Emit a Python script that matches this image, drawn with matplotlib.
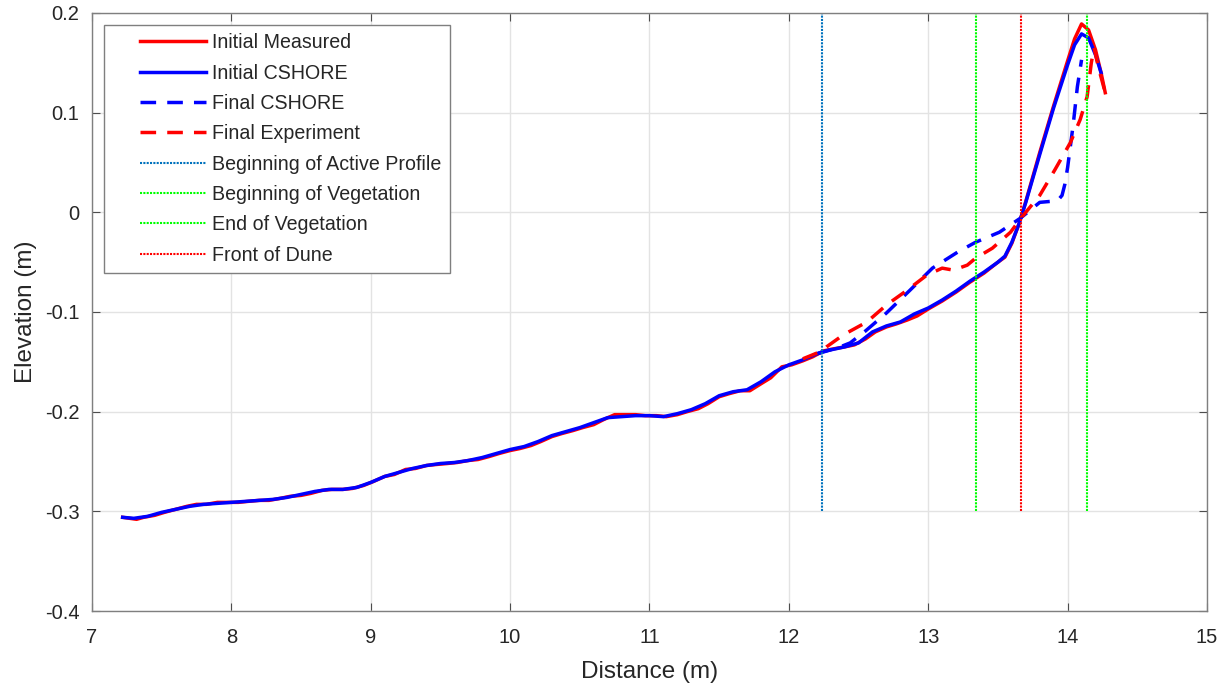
import matplotlib
matplotlib.use("Agg")
import matplotlib.pyplot as plt
from matplotlib.legend_handler import HandlerLine2D

plt.rcParams['font.family'] = ['Liberation Sans', 'DejaVu Sans']

# Initial CSHORE (smooth)
x_cshore = [7.22, 7.30, 7.40, 7.50, 7.60, 7.70, 7.80, 7.90, 8.00, 8.10, 8.20, 8.30, 8.40,
            8.50, 8.60, 8.70, 8.80, 8.90, 9.00, 9.10, 9.20, 9.30, 9.40, 9.50, 9.60, 9.70,
            9.80, 9.90, 10.00, 10.10, 10.20, 10.30, 10.40, 10.50, 10.60, 10.70, 10.80,
            10.90, 11.00, 11.10, 11.20, 11.30, 11.40, 11.50, 11.60, 11.70, 11.80, 11.90,
            12.00, 12.10, 12.20, 12.30, 12.40, 12.50, 12.60, 12.70, 12.80, 12.90, 13.00,
            13.10, 13.20, 13.30, 13.40, 13.50, 13.55, 13.60, 13.65, 13.70, 13.80, 13.90,
            14.00, 14.05, 14.10, 14.15, 14.20, 14.24]
z_cshore = [-0.306, -0.307, -0.305, -0.301, -0.298, -0.295, -0.293, -0.292, -0.291, -0.290,
            -0.289, -0.288, -0.286, -0.283, -0.280, -0.278, -0.278, -0.276, -0.271, -0.265,
            -0.261, -0.257, -0.254, -0.252, -0.251, -0.249, -0.246, -0.242, -0.238, -0.235,
            -0.230, -0.224, -0.220, -0.216, -0.211, -0.206, -0.205, -0.204, -0.204, -0.205,
            -0.202, -0.198, -0.192, -0.184, -0.180, -0.178, -0.170, -0.160, -0.153, -0.148,
            -0.142, -0.138, -0.135, -0.131, -0.120, -0.114, -0.110, -0.102, -0.096, -0.088,
            -0.079, -0.069, -0.060, -0.050, -0.044, -0.030, -0.012, 0.010, 0.058, 0.105,
            0.148, 0.168, 0.179, 0.175, 0.158, 0.140]

# Initial measured (small wiggles)
x_meas = [7.22, 7.27, 7.32, 7.37, 7.45, 7.52, 7.60, 7.68, 7.75, 7.82, 7.90, 7.97, 8.05,
          8.12, 8.20, 8.27, 8.35, 8.42, 8.50, 8.57, 8.65, 8.72, 8.80, 8.87, 8.95, 9.02,
          9.10, 9.17, 9.25, 9.32, 9.40, 9.47, 9.55, 9.62, 9.70, 9.77, 9.85, 9.92, 10.00,
          10.07, 10.15, 10.22, 10.30, 10.37, 10.45, 10.52, 10.60, 10.67, 10.75, 10.82,
          10.90, 10.97, 11.05, 11.12, 11.20, 11.27, 11.35, 11.42, 11.50, 11.57, 11.65,
          11.72, 11.80, 11.87, 11.95, 12.02, 12.10, 12.17, 12.25, 12.32, 12.40, 12.47,
          12.55, 12.62, 12.70, 12.77, 12.85, 12.92, 13.00, 13.10, 13.20, 13.30, 13.40,
          13.50, 13.55, 13.60, 13.65, 13.70, 13.80, 13.90, 14.00, 14.05, 14.10, 14.15,
          14.20, 14.24, 14.27]
z_meas = [-0.306, -0.307, -0.308, -0.306, -0.304, -0.301, -0.298, -0.295, -0.293, -0.293,
          -0.291, -0.291, -0.291, -0.290, -0.289, -0.289, -0.287, -0.285, -0.284, -0.282,
          -0.279, -0.278, -0.278, -0.277, -0.274, -0.270, -0.265, -0.263, -0.258, -0.257,
          -0.254, -0.253, -0.252, -0.251, -0.249, -0.248, -0.245, -0.242, -0.239, -0.237,
          -0.234, -0.230, -0.225, -0.222, -0.219, -0.216, -0.213, -0.208, -0.203, -0.203,
          -0.203, -0.204, -0.204, -0.205, -0.203, -0.200, -0.197, -0.192, -0.185, -0.182,
          -0.179, -0.179, -0.172, -0.166, -0.155, -0.153, -0.149, -0.145, -0.139, -0.137,
          -0.135, -0.133, -0.127, -0.120, -0.115, -0.112, -0.108, -0.104, -0.097, -0.089,
          -0.080, -0.070, -0.061, -0.050, -0.045, -0.031, -0.012, 0.011, 0.060, 0.107,
          0.152, 0.174, 0.189, 0.183, 0.163, 0.140, 0.120]

# Final CSHORE
x_fcs = [12.20, 12.24, 12.35, 12.44, 12.55, 12.70, 12.87, 13.03, 13.21, 13.34, 13.51, 13.66,
         13.80, 13.88, 13.93, 13.96, 13.98, 14.00, 14.04, 14.07, 14.10]
z_fcs = [-0.142, -0.140, -0.136, -0.131, -0.119, -0.101, -0.078, -0.056, -0.040, -0.030,
         -0.020, -0.006, 0.010, 0.011, 0.012, 0.017, 0.028, 0.045, 0.088, 0.126, 0.153]

# Final experiment
x_fex = [12.10, 12.24, 12.27, 12.39, 12.56, 12.70, 12.85, 12.99, 13.10, 13.18, 13.28, 13.34,
         13.46, 13.59, 13.67, 13.80, 13.91, 14.02, 14.09, 14.14, 14.17, 14.19, 14.22, 14.27]
z_fex = [-0.147, -0.139, -0.135, -0.123, -0.110, -0.093, -0.078, -0.063, -0.056, -0.058,
         -0.053, -0.046, -0.036, -0.020, -0.005, 0.017, 0.043, 0.070, 0.093, 0.116, 0.150,
         0.165, 0.146, 0.120]

# Reference positions
x_active = 12.24
x_veg_start = 13.34
x_veg_end = 14.14
x_dune = 13.665
v_bottom, v_top = -0.3, 0.2

labels = ['Initial Measured', 'Initial CSHORE', 'Final CSHORE', 'Final Experiment',
          'Beginning of Active Profile', 'Beginning of Vegetation', 'End of Vegetation',
          'Front of Dune']

fig = plt.figure(figsize=(12.25, 6.83), dpi=100)
ax = fig.add_axes([0.0751, 0.1054, 0.9102, 0.8756])

lw = 2.5
dash = (0, (4.5, 3.2))
ax.plot(x_meas, z_meas, color='#FF0000', lw=lw, label=labels[0])
ax.plot(x_cshore, z_cshore, color='#0000FF', lw=lw, label=labels[1])
ax.plot(x_fcs, z_fcs, color='#0000FF', lw=lw, linestyle=dash, label=labels[2])
ax.plot(x_fex, z_fex, color='#FF0000', lw=lw, linestyle=dash, label=labels[3])

vls = (0, (1, 0.6))
ax.plot([x_active, x_active], [v_bottom, v_top], color='#0072BD', lw=1.5, linestyle=vls, label=labels[4])
ax.plot([x_veg_start, x_veg_start], [v_bottom, v_top], color='#00FF00', lw=1.5, linestyle=vls, label=labels[5])
ax.plot([x_veg_end, x_veg_end], [v_bottom, v_top], color='#00FF00', lw=1.5, linestyle=vls, label=labels[6])
ax.plot([x_dune, x_dune], [v_bottom, v_top], color='#FF0000', lw=1.5, linestyle=vls, label=labels[7])

ax.set_xlim(7, 15)
ax.set_ylim(-0.4, 0.2)
ax.set_xticks(range(7, 16))
ax.set_yticks([-0.4, -0.3, -0.2, -0.1, 0, 0.1, 0.2])
ax.set_yticklabels(['-0.4', '-0.3', '-0.2', '-0.1', '0', '0.1', '0.2'])
ax.grid(True, color='#E3E3E3', lw=1)
ax.set_axisbelow(True)
for s in ax.spines.values():
    s.set_color('#7F7F7F')
    s.set_linewidth(1)
ax.tick_params(direction='in', top=True, right=True, length=6, color='#4D4D4D',
               labelsize=14.5, labelcolor='#262626')
ax.tick_params(axis='x', pad=12)
ax.tick_params(axis='y', pad=9)
ax.set_xlabel('Distance (m)', fontsize=17.5, color='#262626', labelpad=10)
ax.set_ylabel('Elevation (m)', fontsize=17.5, color='#262626', labelpad=6)

fs = 14.1
fs_px = fs * 100 / 72
pad_units = 28 / fs_px
hmap = {ln: HandlerLine2D(xpad=pad_units) for ln in ax.get_lines()}
leg = ax.legend(loc='upper left', bbox_to_anchor=(0.011, 0.98), fontsize=fs,
                handlelength=94 / fs_px, handletextpad=0.3, labelspacing=0.58,
                borderpad=0.42, fancybox=False, framealpha=1, borderaxespad=0,
                handler_map=hmap)
leg.get_frame().set_edgecolor('#7F7F7F')
leg.get_frame().set_linewidth(1)
for t in leg.get_texts():
    t.set_color('#262626')

fig.savefig('out.png', dpi=100)
